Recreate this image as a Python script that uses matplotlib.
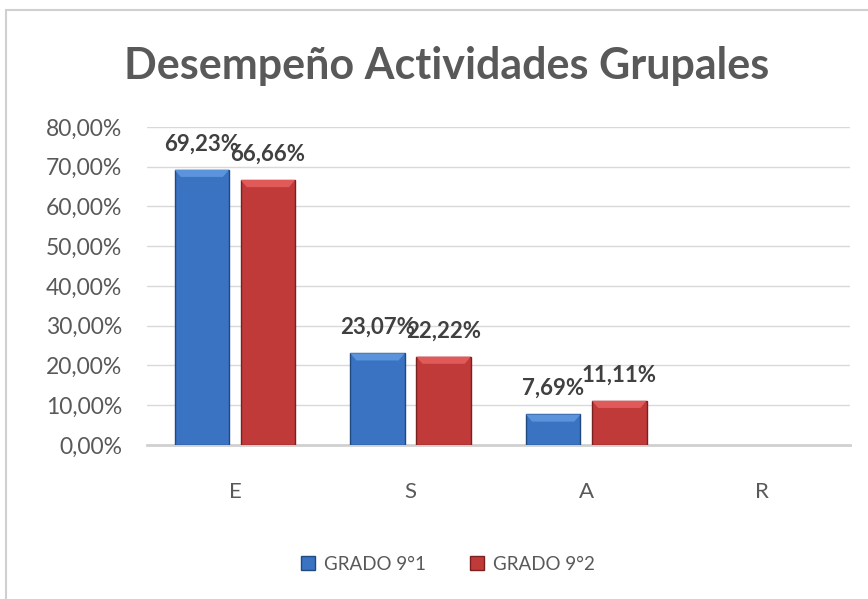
import matplotlib.pyplot as plt
from matplotlib.patches import Rectangle, Polygon
import numpy as np

categorias = ["E", "S", "A", "R"]
grado_91 = [69.23, 23.07, 7.69, 0]
grado_92 = [66.66, 22.22, 11.11, 0]
etiquetas_91 = ["69,23%", "23,07%", "7,69%", ""]
etiquetas_92 = ["66,66%", "22,22%", "11,11%", ""]
series = ["GRADO 9°1", "GRADO 9°2"]
y_ticks = [0, 10, 20, 30, 40, 50, 60, 70, 80]

plt.rcParams['font.family'] = ['Lato', 'DejaVu Sans']

fig = plt.figure(figsize=(8.68, 5.99), dpi=100)
ax = fig.add_axes([0.1694, 0.2571, 0.8096, 0.531])

# marco gris del grafico
fig.patches.append(Rectangle((6 / 868, -0.01), 1.0, 1 - 10 / 599 + 0.01,
                             transform=fig.transFigure, fill=False,
                             edgecolor='#D0D0D0', linewidth=1.5))

x = np.arange(len(categorias))
ancho = 0.31
desp = 0.188

b1 = ax.bar(x - desp, grado_91, ancho, color='#3A73C2', edgecolor='#1F4A80',
            linewidth=1.0, label=series[0], zorder=3)
b2 = ax.bar(x + desp, grado_92, ancho, color='#C03A3A', edgecolor='#7A2020',
            linewidth=1.0, label=series[1], zorder=3)

# bisel claro en la parte superior de cada barra (efecto tipo Excel)
bisel_x = 0.035
bisel_y = 1.8
for rects, claro in ((b1, '#5C94DC'), (b2, '#E05A5A')):
    for rect in rects:
        h = rect.get_height()
        if h <= 0:
            rect.set_linewidth(0)
            continue
        x0, w = rect.get_x(), rect.get_width()
        ax.add_patch(Polygon([(x0, h), (x0 + w, h), (x0 + w - bisel_x, h - bisel_y),
                              (x0 + bisel_x, h - bisel_y)], closed=True,
                             facecolor=claro, edgecolor='none', zorder=4))

# etiquetas de datos (en el original se enciman un poco)
for rects, etq in ((b1, etiquetas_91), (b2, etiquetas_92)):
    for rect, t in zip(rects, etq):
        if not t:
            continue
        ax.annotate(t, xy=(rect.get_x() + rect.get_width() / 2, rect.get_height()),
                    xytext=(0, 11), textcoords='offset points', ha='center',
                    va='bottom', fontsize=16, fontweight='bold', color='#404040',
                    zorder=5)

ax.set_xlim(-0.5, 3.5)
ax.set_ylim(0, 80)
ax.set_yticks(y_ticks)
ax.set_yticklabels([f"{v:.2f}%".replace('.', ',') for v in y_ticks])
ax.set_xticks(x)
ax.set_xticklabels(categorias)
ax.tick_params(axis='y', length=0, pad=18, labelsize=16.5, labelcolor='#595959')
ax.tick_params(axis='x', length=0, pad=27, labelsize=16, labelcolor='#595959')

ax.grid(axis='y', color='#D9D9D9', linewidth=1.0, zorder=0)
for s in ['top', 'right', 'left']:
    ax.spines[s].set_visible(False)
ax.spines['bottom'].set_color('#D0D0D0')
ax.spines['bottom'].set_linewidth(2)

fig.text(0.514, 0.89, "Desempeño Actividades Grupales", ha='center', va='center',
         fontsize=31, fontweight='bold', color='#595959')

fig.legend(handles=[b1, b2], labels=series, loc='center', bbox_to_anchor=(0.516, 0.058),
           ncol=2, frameon=False, fontsize=13.5, labelcolor='#595959',
           handlelength=0.75, handleheight=0.75, handletextpad=0.5, columnspacing=2.3)

plt.savefig('out.png', dpi=100)
plt.close()
